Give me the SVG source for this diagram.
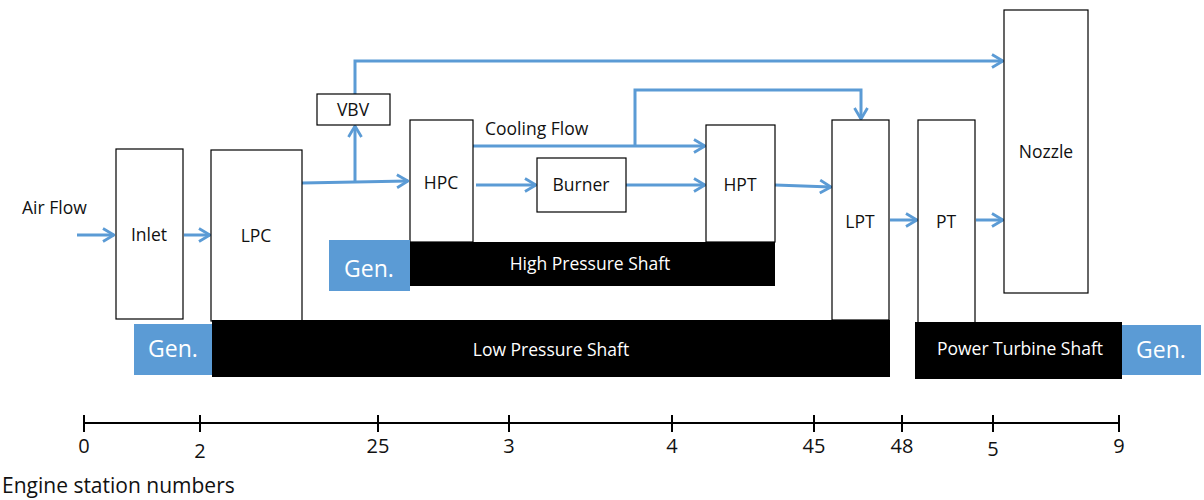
<svg xmlns="http://www.w3.org/2000/svg" width="1204" height="500" viewBox="0 0 1204 500">
<style>
.box{fill:#fff;stroke:#000;stroke-width:1.2}
.shaft{fill:#000}
.gen{fill:#5b9bd5}
.t{font-family:"Open Sans","Noto Sans",sans-serif;font-size:17.5px;fill:#111}
.c{text-anchor:middle}
.w{fill:#fff}
.g{font-family:"Open Sans","Noto Sans",sans-serif;font-size:23px;fill:#fff;text-anchor:middle}
.flow{fill:none;stroke:#5b9bd5;stroke-width:3}
.axis{stroke:#000;stroke-width:2;fill:none}
.ax{font-family:"Open Sans","Noto Sans",sans-serif;font-size:20px;fill:#111;text-anchor:middle}
</style>
<defs>
<marker id="ah" viewBox="0 0 14 16" refX="13" refY="8" markerWidth="14" markerHeight="16" markerUnits="userSpaceOnUse" orient="auto">
<polyline points="2,1.5 13,8 2,14.5" fill="none" stroke="#5b9bd5" stroke-width="2.8"/>
</marker>
</defs>
<rect width="1204" height="500" fill="#fff"/>

<g id="connectors">
<line class="flow" x1="77" y1="235" x2="114" y2="235" marker-end="url(#ah)"/>
<line class="flow" x1="184" y1="235" x2="210" y2="235" marker-end="url(#ah)"/>
<line class="flow" x1="302" y1="183" x2="408" y2="181" marker-end="url(#ah)"/>
<line class="flow" x1="355" y1="183" x2="355" y2="126" marker-end="url(#ah)"/>
<polyline class="flow" points="355,94 355,61 1003,61" marker-end="url(#ah)"/>
<line class="flow" x1="473" y1="146" x2="705" y2="146" marker-end="url(#ah)"/>
<polyline class="flow" points="635,146 635,90 861,90 861,119" marker-end="url(#ah)"/>
<line class="flow" x1="476" y1="185" x2="536" y2="185" marker-end="url(#ah)"/>
<line class="flow" x1="626" y1="185" x2="705" y2="185" marker-end="url(#ah)"/>
<line class="flow" x1="775" y1="185" x2="831" y2="187" marker-end="url(#ah)"/>
<line class="flow" x1="890" y1="220" x2="917" y2="220" marker-end="url(#ah)"/>
<line class="flow" x1="976" y1="220" x2="1003" y2="220" marker-end="url(#ah)"/>
</g>

<text class="t" x="22" y="214">Air Flow</text>
<text class="t" x="485" y="135">Cooling Flow</text>

<g id="inlet"><rect class="box" x="116" y="149" width="67" height="170"/><text class="t c" x="149" y="241">Inlet</text></g>
<g id="lpc"><rect class="box" x="211" y="150" width="91" height="171"/><text class="t c" x="256" y="242">LPC</text></g>
<g id="vbv"><rect class="box" x="317" y="94" width="73" height="31"/><text class="t c" x="353" y="116">VBV</text></g>
<g id="hpc"><rect class="box" x="410" y="120" width="63" height="122"/><text class="t c" x="441" y="189">HPC</text></g>
<g id="burner"><rect class="box" x="537" y="158" width="89" height="54"/><text class="t c" x="581" y="191">Burner</text></g>
<g id="hpt"><rect class="box" x="706" y="125" width="69" height="117"/><text class="t c" x="740" y="191">HPT</text></g>
<g id="lpt"><rect class="box" x="832" y="120" width="57" height="200"/><text class="t c" x="860" y="228">LPT</text></g>
<g id="pt"><rect class="box" x="918" y="120" width="57" height="203"/><text class="t c" x="946" y="228">PT</text></g>
<g id="nozzle"><rect class="box" x="1004" y="10" width="84" height="283"/><text class="t c" x="1046" y="158">Nozzle</text></g>

<g id="hp-shaft"><rect class="shaft" x="410" y="242" width="365" height="44"/><text class="t c w" x="590" y="270">High Pressure Shaft</text></g>
<g id="hp-gen"><rect class="gen" x="329" y="240" width="81" height="51"/><text class="g" x="369" y="277">Gen.</text></g>
<g id="lp-shaft"><rect class="shaft" x="212" y="320" width="678" height="57"/><text class="t c w" x="551" y="356">Low Pressure Shaft</text></g>
<g id="lp-gen"><rect class="gen" x="134" y="324" width="78" height="51"/><text class="g" x="173" y="357">Gen.</text></g>
<g id="pt-shaft"><rect class="shaft" x="915" y="322" width="207" height="57"/><text class="t c w" x="1020" y="355">Power Turbine Shaft</text></g>
<g id="pt-gen"><rect class="gen" x="1122" y="325" width="79" height="50"/><text class="g" x="1161" y="358">Gen.</text></g>

<g id="axis">
<line class="axis" x1="84" y1="423" x2="1119" y2="423"/>
<path class="axis" d="M84,415V432M200,415V432M378,415V432M509,415V432M672,415V432M814,415V432M902,415V432M993,415V432M1119,415V432"/>
<text class="ax" x="84" y="453">0</text>
<text class="ax" x="200" y="458">2</text>
<text class="ax" x="378" y="453">25</text>
<text class="ax" x="509" y="453">3</text>
<text class="ax" x="672" y="453">4</text>
<text class="ax" x="814" y="453">45</text>
<text class="ax" x="902" y="453">48</text>
<text class="ax" x="993" y="456">5</text>
<text class="ax" x="1119" y="453">9</text>
<text class="ax" x="2" y="493" style="text-anchor:start;font-size:21px">Engine station numbers</text>
</g>
</svg>
